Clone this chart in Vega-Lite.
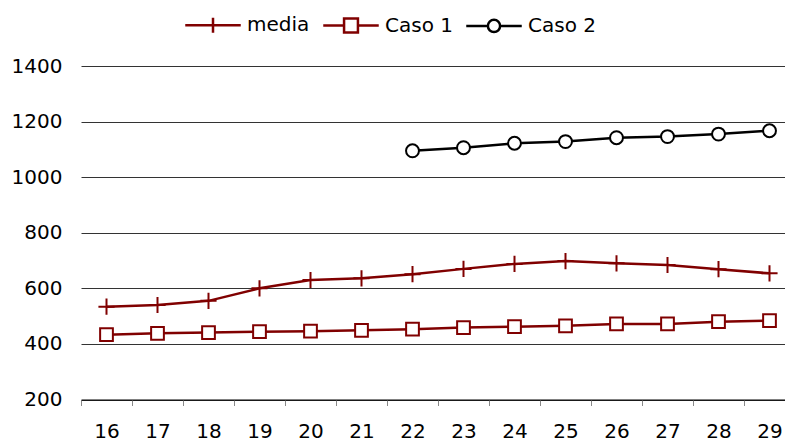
{
  "$schema": "https://vega.github.io/schema/vega-lite/v6.json",
  "autosize": "none",
  "padding": {"left": 81, "top": 66, "right": 0, "bottom": 44},
  "width": 714,
  "height": 333.5,
  "config": {
    "font": "DejaVu Sans",
    "view": {"stroke": null},
    "axis": {"labelFont": "DejaVu Sans", "labelFontSize": 20, "labelColor": "#000", "title": null},
    "legend": {
      "title": null,
      "orient": "none",
      "direction": "horizontal",
      "legendX": 103,
      "legendY": -70,
      "padding": 0,
      "symbolSize": 3080,
      "symbolStrokeWidth": 2.5,
      "symbolOpacity": 1,
      "labelFontSize": 20,
      "labelFont": "DejaVu Sans",
      "labelColor": "#000",
      "labelOffset": 5,
      "columnPadding": 8
    }
  },
  "data": {
    "values": [
      {"x": "16", "series": "media", "value": 534},
      {"x": "17", "series": "media", "value": 540},
      {"x": "18", "series": "media", "value": 555},
      {"x": "19", "series": "media", "value": 600},
      {"x": "20", "series": "media", "value": 630},
      {"x": "21", "series": "media", "value": 636},
      {"x": "22", "series": "media", "value": 651},
      {"x": "23", "series": "media", "value": 670},
      {"x": "24", "series": "media", "value": 688},
      {"x": "25", "series": "media", "value": 698},
      {"x": "26", "series": "media", "value": 690},
      {"x": "27", "series": "media", "value": 684},
      {"x": "28", "series": "media", "value": 669},
      {"x": "29", "series": "media", "value": 654},
      {"x": "16", "series": "Caso 1", "value": 433},
      {"x": "17", "series": "Caso 1", "value": 438},
      {"x": "18", "series": "Caso 1", "value": 441},
      {"x": "19", "series": "Caso 1", "value": 444},
      {"x": "20", "series": "Caso 1", "value": 446},
      {"x": "21", "series": "Caso 1", "value": 449},
      {"x": "22", "series": "Caso 1", "value": 453},
      {"x": "23", "series": "Caso 1", "value": 459},
      {"x": "24", "series": "Caso 1", "value": 462},
      {"x": "25", "series": "Caso 1", "value": 465},
      {"x": "26", "series": "Caso 1", "value": 472},
      {"x": "27", "series": "Caso 1", "value": 472},
      {"x": "28", "series": "Caso 1", "value": 480},
      {"x": "29", "series": "Caso 1", "value": 484},
      {"x": "22", "series": "Caso 2", "value": 1095},
      {"x": "23", "series": "Caso 2", "value": 1106},
      {"x": "24", "series": "Caso 2", "value": 1122},
      {"x": "25", "series": "Caso 2", "value": 1128},
      {"x": "26", "series": "Caso 2", "value": 1142},
      {"x": "27", "series": "Caso 2", "value": 1146},
      {"x": "28", "series": "Caso 2", "value": 1155},
      {"x": "29", "series": "Caso 2", "value": 1167}
    ]
  },
  "encoding": {
    "x": {
      "field": "x", "type": "ordinal",
      "scale": {"type": "band", "domain": ["16","17","18","19","20","21","22","23","24","25","26","27","28","29"], "paddingInner": 0, "paddingOuter": 0},
      "axis": {"tickBand": "extent", "labelAngle": 0, "grid": false, "domainColor": "#000", "domainWidth": 1, "tickColor": "#888", "tickSize": 6, "labelPadding": 16}
    },
    "y": {
      "field": "value", "type": "quantitative",
      "scale": {"domain": [200, 1400], "nice": false, "zero": false},
      "axis": {"values": [200, 400, 600, 800, 1000, 1200, 1400], "format": "d", "ticks": false, "domain": false, "grid": true, "gridColor": "#333", "gridWidth": 1, "gridOpacity": 1, "labelPadding": 19}
    }
  },
  "layer": [
    {
      "mark": {"type": "line", "strokeWidth": 2.5},
      "encoding": {
        "detail": {"field": "series"},
        "color": {
          "field": "series", "type": "nominal",
          "scale": {"domain": ["media", "Caso 1", "Caso 2"], "range": ["#800000", "#800000", "#000000"]},
          "legend": null
        }
      }
    },
    {
      "mark": {"type": "point", "filled": false, "fill": "white", "fillOpacity": 1, "opacity": 1, "size": 289, "strokeWidth": 2},
      "encoding": {
        "color": {
          "field": "series", "type": "nominal",
          "scale": {"domain": ["media", "Caso 1", "Caso 2"], "range": ["#800000", "#800000", "#000000"]},
          "legend": null
        },
        "shape": {
          "field": "series", "type": "nominal",
          "scale": {"domain": ["media", "Caso 1", "Caso 2"], "range": ["M-0.95,0H0.95M0,-0.95V0.95", "M-0.75,-0.75H0.75V0.75H-0.75Z", "M0.76,0A0.76,0.76 0 1,1 -0.76,0A0.76,0.76 0 1,1 0.76,0Z"]},
          "legend": null
        }
      }
    },
    {
      "transform": [{"filter": "datum.value < 0"}],
      "mark": {"type": "point", "filled": false, "opacity": 1, "strokeWidth": 2.5},
      "encoding": {
        "color": {
          "field": "series", "type": "nominal",
          "scale": {"domain": ["media", "Caso 1", "Caso 2"], "range": ["#800000", "#800000", "#000000"]}
        },
        "shape": {
          "field": "series", "type": "nominal",
          "scale": {"domain": ["media", "Caso 1", "Caso 2"], "range": ["M-1,0H1M0,-0.27V0.27", "M-1,0H-0.25M0.25,0H1M-0.25,-0.25H0.25V0.25H-0.25Z", "M-1,0H-0.22M0.22,0H1M0.22,0A0.22,0.22 0 1,1 -0.22,0A0.22,0.22 0 1,1 0.22,0Z"]}
        }
      }
    }
  ],
  "resolve": {"scale": {"shape": "independent"}, "legend": {"shape": "independent", "color": "independent"}}
}
